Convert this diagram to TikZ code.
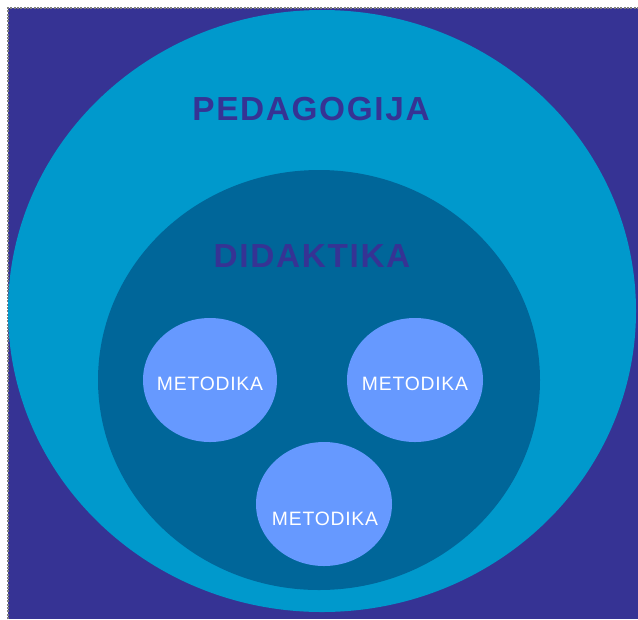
\documentclass[tikz,border=0pt]{standalone}
\usepackage{fontspec}
\setmainfont{Liberation Sans}
\definecolor{ground}{HTML}{363394}
\definecolor{pedag}{HTML}{0099CC}
\definecolor{didak}{HTML}{006699}
\definecolor{metod}{HTML}{6699FF}
\tikzset{
	bigtitle/.style={anchor=base,text=ground,font=\fontsize{25}{25}\selectfont\bfseries\addfontfeatures{LetterSpace=5}},
	smalltitle/.style={anchor=base,text=white,font=\fontsize{14.5}{14.5}\selectfont\addfontfeatures{LetterSpace=4}},
}
\begin{document}
\begin{tikzpicture}[x=0.75pt,y=-0.75pt]
		\useasboundingbox (0,0) rectangle (638,619);
		\coordinate (NW) at (8,8);
		\coordinate (SE) at (638,619);
		\coordinate (P) at (322,311);
		\coordinate (D) at (319,380);
		\coordinate (M1) at (210,380);
		\coordinate (M2) at (415,380);
		\coordinate (M3) at (324,504);
		\fill [ground] (NW) rectangle (SE);
		\draw [gray,densely dotted,line width=1.5pt] (NW |- SE) -- (NW) -- (SE |- NW);
		\fill [pedag] (P) ellipse [x radius=314,y radius=301];
		\fill [didak] (D) ellipse [x radius=221,y radius=210];
		\fill [metod] (M1) ellipse [x radius=67,y radius=62];
		\fill [metod] (M2) ellipse [x radius=68,y radius=62];
		\fill [metod] (M3) ellipse [x radius=68,y radius=62];
		\node [bigtitle] (ped) at (311,120) {PEDAGOGIJA};
		\node [bigtitle] (did) at (312,267) {DIDAKTIKA};
		\node [smalltitle] (met1) at (210,390) {METODIKA};
		\node [smalltitle] (met2) at (415,390) {METODIKA};
		\node [smalltitle] (met3) at (325,525) {METODIKA};
	\end{tikzpicture}
\end{document}
